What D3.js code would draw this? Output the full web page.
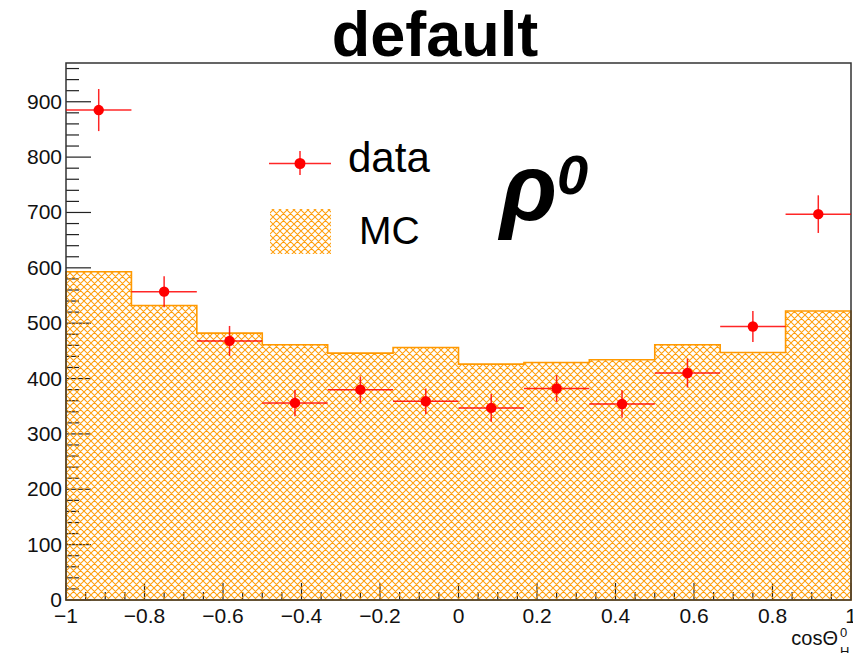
<!DOCTYPE html>
<html>
<head>
<meta charset="utf-8">
<script src="https://cdn.jsdelivr.net/npm/d3@7"></script>
<style>
  html, body { margin: 0; padding: 0; background: #fff; }
  svg { display: block; font-family: "Liberation Sans", Arial, Helvetica, sans-serif; }
</style>
</head>
<body>
<svg id="chart" width="853" height="653"></svg>
<script>
// ---- data ----
const binEdges = [-1, -0.8333, -0.6667, -0.5, -0.3333, -0.1667, 0, 0.1667, 0.3333, 0.5, 0.6667, 0.8333, 1];
const mcValues = [593, 532, 482, 461, 446, 456, 426, 429, 434, 461, 447, 522];
const dataValues = [885, 557, 468, 356, 380, 359, 347, 382, 354, 410, 494, 697];
const dataErrors = [38, 28, 27, 24, 24, 23, 25, 24, 25, 26, 28, 34];
const xTicks = [-1, -0.8, -0.6, -0.4, -0.2, 0, 0.2, 0.4, 0.6, 0.8, 1];
const xTickLabels = ["\u22121", "\u22120.8", "\u22120.6", "\u22120.4", "\u22120.2", "0", "0.2", "0.4", "0.6", "0.8", "1"];
const yTicks = [0, 100, 200, 300, 400, 500, 600, 700, 800, 900];
const titleText = "default";
const legendLabels = ["data", "MC"];

// ---- layout ----
const L = 66, R = 851, T = 63, B = 600;
const svg = d3.select("#chart");
const x = d3.scaleLinear().domain([-1, 1]).range([L, R]);
const y = d3.scaleLinear().domain([0, 970]).range([B, T]);
const hatchColor = "#ff9900";

// hatch pattern
const defs = svg.append("defs");
const P = 7;
const pat = defs.append("pattern").attr("id", "hatch")
  .attr("patternUnits", "userSpaceOnUse").attr("width", P).attr("height", P);
pat.append("path")
  .attr("d", `M-1,-1 L${P+1},${P+1} M-1,${P-1} L1,${P+1} M${P-1},-1 L${P+1},1 M-1,${P+1} L${P+1},-1 M-1,1 L1,-1 M${P-1},${P+1} L${P+1},${P-1}`)
  .attr("stroke", hatchColor).attr("stroke-width", 1.05).attr("stroke-opacity", 0.95).attr("fill", "none");

// ---- axes (ticks drawn first, hatch over them) ----
const ax = svg.append("g").attr("stroke", "#222").attr("stroke-width", 1.2);
const yMinor = d3.range(0, 961, 20);
ax.selectAll(".ym").data(yMinor).join("line")
  .attr("x1", L).attr("x2", d => L + (d % 100 === 0 ? 25 : 13))
  .attr("y1", d => y(d)).attr("y2", d => y(d));
const xMinor = d3.range(-1, 1.0001, 0.05);
ax.selectAll(".xm").data(xMinor).join("line")
  .attr("x1", d => x(d)).attr("x2", d => x(d))
  .attr("y1", B).attr("y2", d => B - (Math.abs(Math.round(d * 100) % 20) === 0 ? 17 : 8));

// ---- MC histogram ----
let pathD = `M${x(binEdges[0])},${y(0)}`;
mcValues.forEach((v, i) => {
  pathD += ` L${x(binEdges[i])},${y(v)} L${x(binEdges[i + 1])},${y(v)}`;
});
pathD += ` L${x(binEdges[binEdges.length - 1])},${y(0)} Z`;
svg.append("path").attr("d", pathD).attr("fill", "url(#hatch)")
  .attr("stroke", hatchColor).attr("stroke-width", 1.6).attr("stroke-linejoin", "miter");

// frame
svg.append("rect").attr("x", L).attr("y", T).attr("width", R - L).attr("height", B - T)
  .attr("fill", "none").attr("stroke", "#333").attr("stroke-width", 1.5);

// tick labels
svg.append("g").selectAll("text").data(yTicks).join("text")
  .attr("x", L - 4).attr("y", d => y(d) + 7).attr("text-anchor", "end")
  .attr("font-size", 21).attr("fill", "#111").text(d => d);
svg.append("g").selectAll("text").data(xTicks).join("text")
  .attr("x", d => x(d)).attr("y", 623).attr("text-anchor", "middle")
  .attr("font-size", 21).attr("fill", "#111").text((d, i) => xTickLabels[i]);

// x axis title cosΘ^0_H
const xt = svg.append("g").attr("fill", "#111");
xt.append("text").attr("x", 838).attr("y", 645).attr("text-anchor", "end").attr("font-size", 20).text("cos\u0398");
xt.append("text").attr("x", 840).attr("y", 637).attr("font-size", 13).text("0");
xt.append("text").attr("x", 840).attr("y", 656).attr("font-size", 13).text("H");

// ---- data points ----
const red = "#ff0000";
const pts = svg.append("g");
dataValues.forEach((v, i) => {
  const cx = x((binEdges[i] + binEdges[i + 1]) / 2);
  pts.append("line").attr("x1", x(binEdges[i])).attr("x2", x(binEdges[i + 1]))
    .attr("y1", y(v)).attr("y2", y(v)).attr("stroke", red).attr("stroke-width", 1.5).attr("stroke-opacity", 0.85);
  pts.append("line").attr("x1", cx).attr("x2", cx)
    .attr("y1", y(v - dataErrors[i])).attr("y2", y(v + dataErrors[i]))
    .attr("stroke", red).attr("stroke-width", 1.5).attr("stroke-opacity", 0.85);
  pts.append("circle").attr("cx", cx).attr("cy", y(v)).attr("r", 5.2).attr("fill", red);
});

// ---- title ----
svg.append("text").attr("x", 435).attr("y", 56).attr("text-anchor", "middle")
  .attr("font-size", 63).attr("font-weight", "bold").attr("fill", "#000").text(titleText);

// ---- legend ----
const lg = svg.append("g");
lg.append("line").attr("x1", 269).attr("x2", 331).attr("y1", 163.5).attr("y2", 163.5)
  .attr("stroke", red).attr("stroke-width", 1.5).attr("stroke-opacity", 0.85);
lg.append("line").attr("x1", 300).attr("x2", 300).attr("y1", 151).attr("y2", 175)
  .attr("stroke", red).attr("stroke-width", 1.5).attr("stroke-opacity", 0.85);
lg.append("circle").attr("cx", 300).attr("cy", 163.5).attr("r", 5.5).attr("fill", red);
lg.append("text").attr("x", 348).attr("y", 172).attr("font-size", 42).attr("fill", "#000").text(legendLabels[0]);
lg.append("rect").attr("x", 270).attr("y", 209).attr("width", 61).attr("height", 45)
  .attr("fill", "url(#hatch)");
lg.append("text").attr("x", 359).attr("y", 244).attr("font-size", 39).attr("fill", "#000").text(legendLabels[1]);

// rho^0 label
const rho = svg.append("text").attr("x", 500).attr("y", 220).attr("fill", "#000")
  .attr("font-weight", "bold").attr("font-style", "italic");
rho.append("tspan").attr("font-size", 94).text("\u03c1");
rho.append("tspan").attr("font-size", 56).attr("dy", -26).attr("dx", 0).text("0");
</script>
</body>
</html>
